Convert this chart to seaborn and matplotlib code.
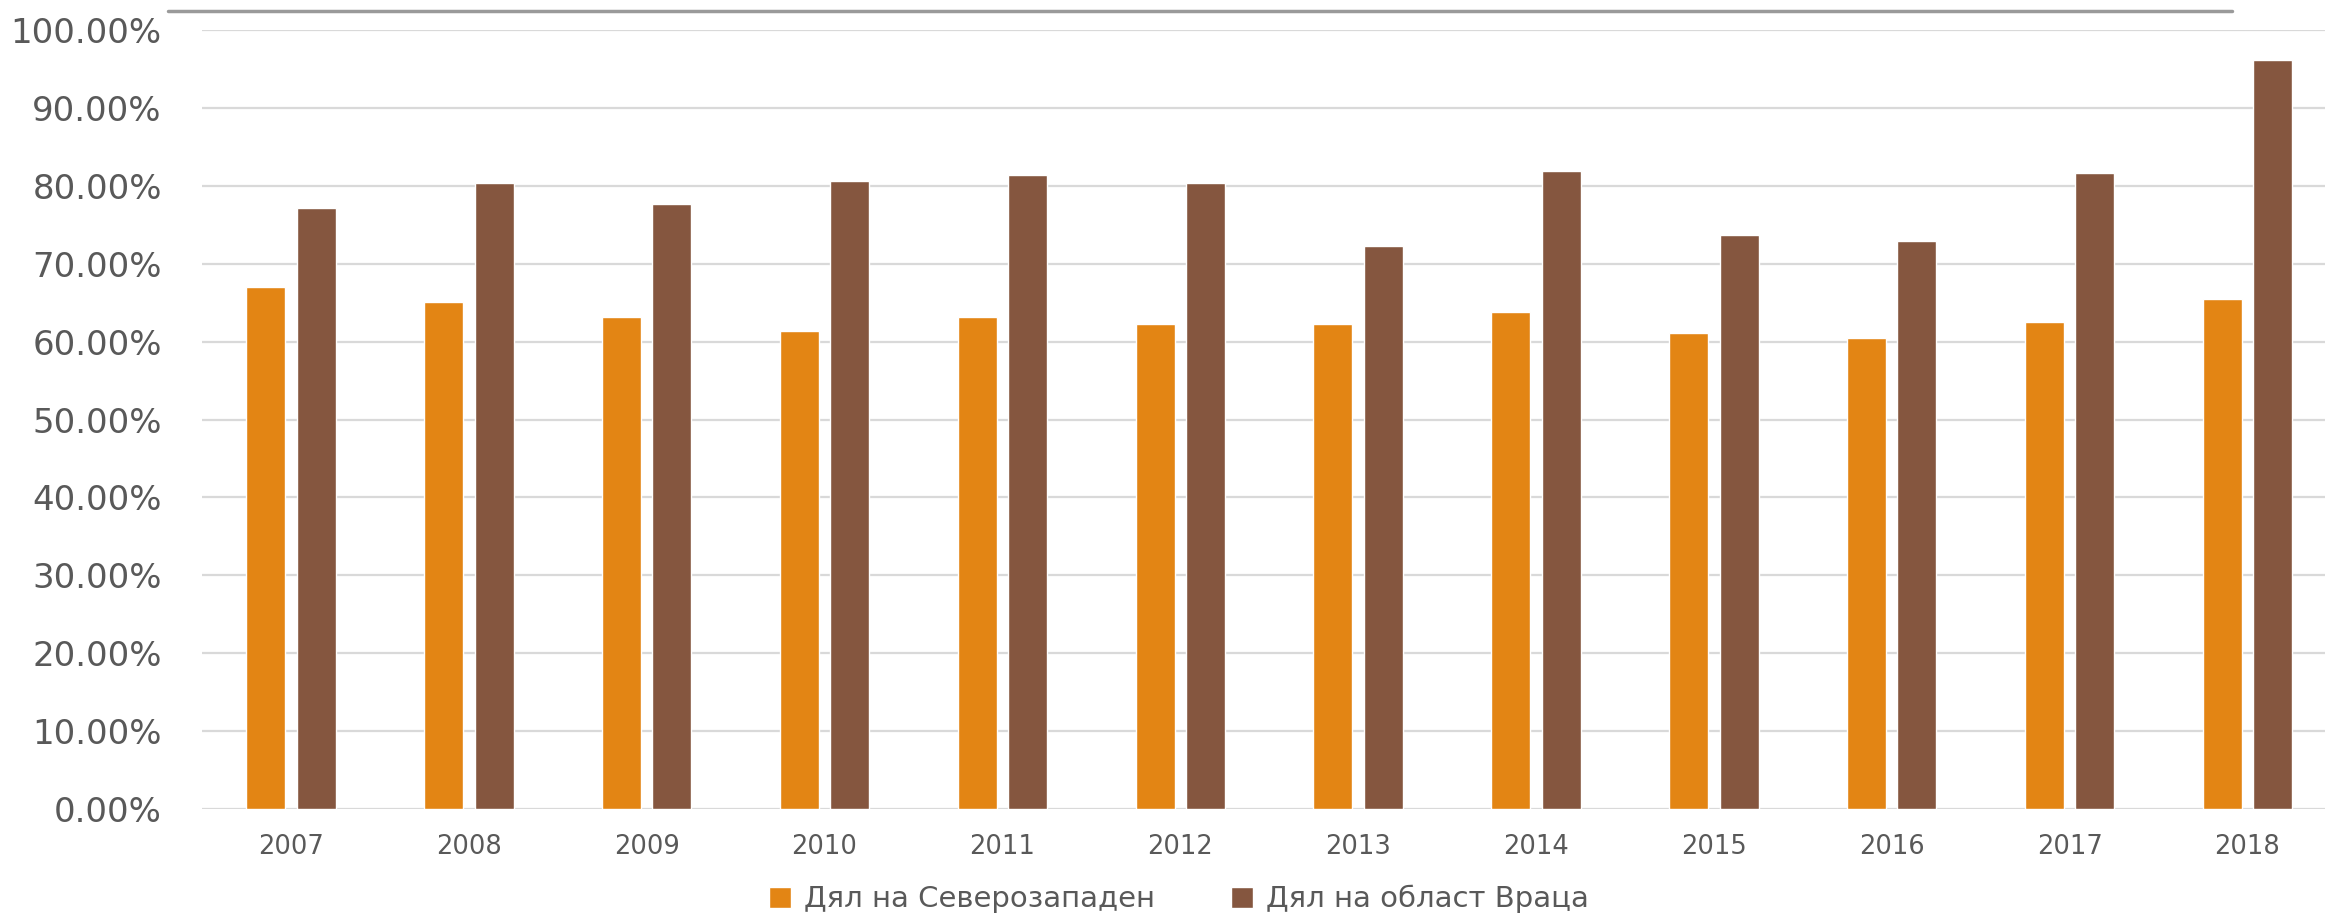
import matplotlib
matplotlib.use("Agg")
import matplotlib.pyplot as plt
from matplotlib.lines import Line2D
from matplotlib.ticker import PercentFormatter, MultipleLocator
import pandas as pd
import seaborn as sns

years = ["2007", "2008", "2009", "2010", "2011", "2012",
         "2013", "2014", "2015", "2016", "2017", "2018"]
series_names = ["Дял на Северозападен", "Дял на област Враца"]
northwest = [0.670, 0.651, 0.631, 0.613, 0.632, 0.623,
             0.623, 0.638, 0.611, 0.604, 0.625, 0.655]
vratsa = [0.772, 0.803, 0.777, 0.806, 0.814, 0.803,
          0.723, 0.819, 0.737, 0.729, 0.817, 0.961]
colors = ["#E38514", "#85563F"]

df = pd.DataFrame({
    "year": years * 2,
    "share": northwest + vratsa,
    "series": [series_names[0]] * len(years) + [series_names[1]] * len(years),
})

sns.set_style("white")
plt.rcParams["font.family"] = ["DejaVu Sans"]
text_color = "#595959"

fig = plt.figure(figsize=(23.25, 9.23), dpi=100)
ax = fig.add_axes([0.0869, 0.1235, 0.918, 0.844])

sns.barplot(data=df, x="year", y="share", hue="series", palette=colors,
            width=0.567, gap=0.227, ax=ax, saturation=1)

ax.set_ylim(0, 1.0)
ax.set_xlim(-0.5, len(years) - 0.5)
ax.yaxis.set_major_locator(MultipleLocator(0.1))
ax.yaxis.set_major_formatter(PercentFormatter(1.0, decimals=2))
ax.grid(axis="y", color="#D9D9D9", linewidth=1.6)
ax.set_axisbelow(True)
for s in ax.spines.values():
    s.set_visible(False)
ax.set_xlabel("")
ax.set_ylabel("")
ax.tick_params(axis="y", labelsize=24.5, colors=text_color, length=0, pad=29)
ax.tick_params(axis="x", labelsize=18.5, colors=text_color, length=0, pad=18)

handles, labels = ax.get_legend_handles_labels()
ax.get_legend().remove()
fig.legend(handles, labels, loc="lower center", bbox_to_anchor=(0.507, -0.018),
           ncol=2, frameon=False, fontsize=21, labelcolor=text_color,
           handlelength=0.75, handleheight=0.75, handletextpad=0.45, columnspacing=2.6)

fig.add_artist(Line2D([168 / 2325, 2232 / 2325], [1 - 11 / 923] * 2,
                      color="#9A9A9A", linewidth=2.5))

fig.savefig("out.png", dpi=100)
